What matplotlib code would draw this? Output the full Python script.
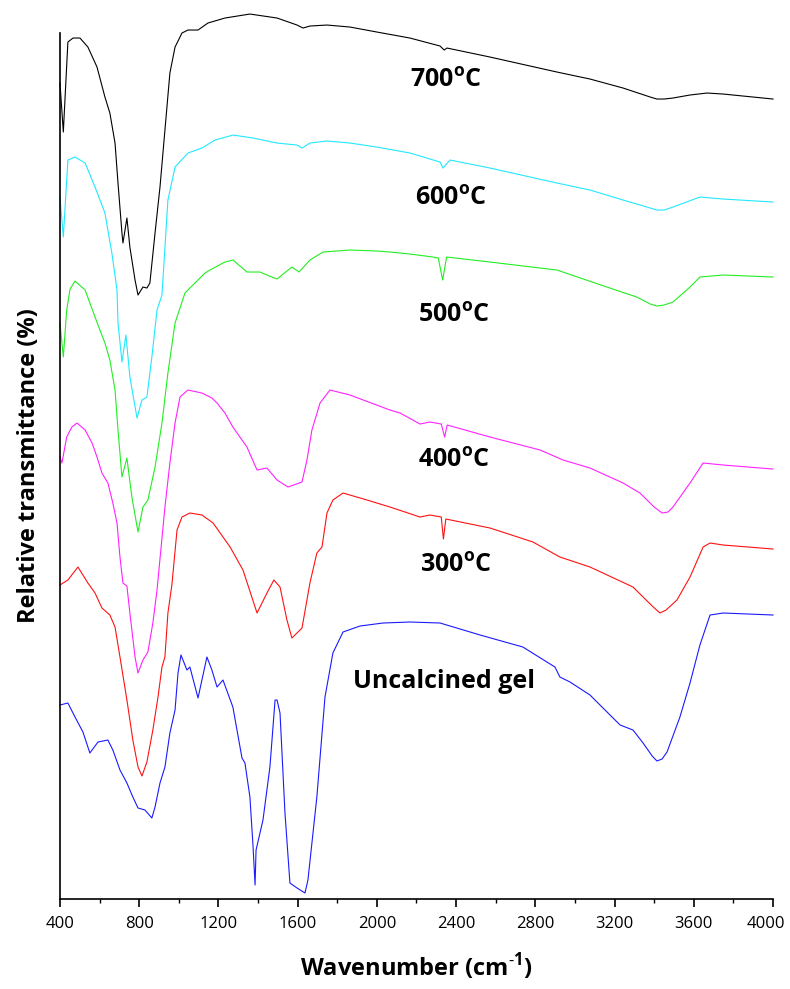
#!python3

import matplotlib
matplotlib.use("Agg")
import matplotlib.pyplot as plt
import matplotlib.transforms as mtransforms
from matplotlib.ticker import MultipleLocator

# wavenumber (cm-1) and relative transmittance (a.u., offset already applied)
wn_700 = [400, 417, 440, 466, 501, 541, 587, 627, 652, 678, 693, 713, 718, 738, 753, 779, 794, 819, 839,
          854, 880, 905, 930, 955, 981, 1016, 1046, 1097, 1147, 1233, 1359, 1496, 1597, 1627, 1662, 1748,
          1864, 2000, 2167, 2319, 2340, 2354, 2571, 2909, 3076, 3243, 3380, 3414, 3450, 3495, 3580, 3667,
          3748, 4000]
t_700 = [816, 767, 857, 861, 861, 852, 832, 802, 786, 756, 716, 666, 656, 681, 652, 619, 604, 612, 611,
         616, 666, 712, 769, 826, 852, 866, 869, 869, 876, 881, 885, 881, 874, 871, 873, 874,
         872, 867, 861, 853, 849, 851, 842, 827, 820, 811, 802, 800, 800, 801, 804, 806,
         805, 800]

wn_600 = [400, 417, 440, 476, 527, 577, 627, 662, 688, 693, 713, 733, 753, 789, 814, 839, 864, 890, 915,
          945, 981, 1046, 1117, 1183, 1274, 1375, 1496, 1597, 1622, 1662, 1748, 1864, 2000, 2167, 2319,
          2334, 2369, 2571, 2909, 3076, 3243, 3380, 3414, 3450, 3495, 3631, 3748, 4000]
t_600 = [702, 662, 739, 742, 736, 712, 686, 646, 609, 576, 537, 564, 522, 481, 499, 502, 542, 589, 604,
         699, 732, 746, 751, 759, 764, 761, 756, 754, 751, 756, 758, 756, 752, 746, 737,
         731, 739, 731, 716, 709, 699, 691, 689, 689, 692, 702, 700, 697]

wn_500 = [400, 417, 434, 451, 476, 527, 577, 627, 652, 678, 693, 713, 738, 763, 794, 819, 844, 880, 915,
          945, 981, 1031, 1046, 1132, 1157, 1233, 1274, 1344, 1410, 1445, 1496, 1571, 1607, 1662, 1728,
          1864, 2000, 2066, 2167, 2283, 2310, 2332, 2352, 2571, 2909, 3161, 3312, 3380, 3414, 3450, 3495,
          3581, 3631, 3748, 4000]
t_500 = [576, 542, 589, 610, 618, 609, 582, 556, 539, 509, 469, 422, 441, 402, 367, 392, 399, 432, 476,
         526, 576, 606, 609, 626, 629, 637, 639, 627, 627, 624, 620, 632, 627, 639, 647,
         649, 648, 647, 645, 642, 641, 619, 642, 637, 629, 612, 602, 595, 593, 594, 597,
         612, 622, 624, 622]

wn_400 = [400, 410, 434, 460, 486, 527, 562, 587, 612, 642, 667, 688, 703, 718, 738, 753, 779, 794, 819,
          844, 869, 890, 930, 955, 981, 1006, 1046, 1117, 1167, 1193, 1233, 1273, 1344, 1395, 1445, 1496,
          1551, 1622, 1647, 1672, 1713, 1763, 1864, 2066, 2117, 2218, 2268, 2325, 2342, 2355, 2571, 2824,
          2940, 3076, 3243, 3328, 3400, 3440, 3470, 3495, 3581, 3647, 3748, 4000]
t_400 = [442, 436, 462, 472, 476, 469, 456, 442, 426, 416, 396, 376, 342, 316, 313, 286, 242, 226, 239,
         247, 276, 309, 392, 436, 476, 502, 509, 506, 501, 496, 486, 472, 452, 429, 431, 419,
         412, 417, 439, 469, 496, 509, 504, 489, 486, 475, 477, 475, 462, 474, 462, 449,
         439, 431, 416, 406, 392, 386, 387, 392, 416, 436, 434, 430]

wn_300 = [400, 440, 491, 541, 577, 612, 652, 678, 703, 738, 768, 794, 814, 839, 869, 895, 915, 930, 945,
          965, 991, 1016, 1056, 1117, 1173, 1259, 1324, 1395, 1445, 1480, 1511, 1546, 1571, 1622, 1662,
          1697, 1723, 1748, 1778, 1829, 1950, 2066, 2218, 2268, 2325, 2336, 2348, 2571, 2788, 2924, 3076,
          3293, 3390, 3429, 3460, 3515, 3581, 3647, 3682, 3748, 4000]
t_300 = [314, 319, 332, 316, 306, 291, 284, 272, 242, 199, 159, 132, 123, 137, 169, 202, 232, 242, 286,
         314, 369, 382, 386, 384, 376, 352, 329, 286, 306, 319, 312, 279, 261, 271, 316,
         346, 352, 386, 399, 406, 399, 392, 382, 384, 382, 360, 380, 371, 357, 342, 332,
         312, 293, 286, 289, 299, 322, 352, 356, 354, 350]

wn_gel = [400, 440, 476, 516, 551, 592, 642, 667, 703, 738, 768, 794, 829, 864, 880, 905, 930, 955, 981,
          996, 1011, 1041, 1056, 1097, 1142, 1167, 1193, 1223, 1273, 1319, 1334, 1359, 1375, 1385, 1390,
          1425, 1460, 1486, 1496, 1511, 1536, 1561, 1597, 1637, 1652, 1697, 1738, 1778, 1829, 1915, 2031,
          2167, 2319, 2521, 2737, 2899, 2924, 2975, 3076, 3162, 3228, 3293, 3344, 3390, 3414, 3440, 3465,
          3530, 3581, 3631, 3682, 3748, 4000]
t_gel = [194, 196, 182, 167, 146, 157, 159, 149, 129, 116, 102, 91, 89, 81, 92, 116, 132, 166, 189,
         226, 244, 229, 232, 201, 242, 229, 212, 219, 192, 141, 136, 102, 52, 14, 49,
         79, 132, 199, 199, 186, 86, 16, 11, 6, 19, 102, 202, 246, 267, 273, 276,
         277, 276, 264, 252, 232, 222, 217, 204, 187, 174, 169, 156, 143, 138, 140, 147,
         182, 216, 254, 284, 286, 284]

series = [
  (wn_700, t_700, "black"),
  (wn_600, t_600, "#22e8ff"),
  (wn_500, t_500, "#22ee22"),
  (wn_400, t_400, "#ff22ff"),
  (wn_300, t_300, "#ff1111"),
  (wn_gel, t_gel, "#1a1aff"),
]

labels = ["700$^{\\mathbf{o}}$C", "600$^{\\mathbf{o}}$C", "500$^{\\mathbf{o}}$C",
          "400$^{\\mathbf{o}}$C", "300$^{\\mathbf{o}}$C", "Uncalcined gel"]
label_pos = [(2167, 812), (2192, 694), (2207, 577), (2207, 432), (2218, 327), (1879, 211)]

xticks = [400, 800, 1200, 1600, 2000, 2400, 2800, 3200, 3600, 4000]


def main():
  plt.rcParams['font.family'] = ['Open Sans', 'DejaVu Sans']
  plt.rcParams['mathtext.fontset'] = 'custom'
  plt.rcParams['mathtext.rm'] = 'Open Sans'
  plt.rcParams['mathtext.bf'] = 'Open Sans:bold'

  fig = plt.figure(figsize=(7.9, 9.89), dpi=100)
  ax = fig.add_axes([0.0759, 0.0910, 0.9026, 0.8756])

  for wn, t, c in series:
    ax.plot(wn, t, '-', color=c, lw=0.8, clip_on=False)

  for txt, (x, y) in zip(labels, label_pos):
    ax.text(x, y, txt, fontsize=18, fontweight='bold', ha='left', va='baseline')

  ax.set_xlim(400, 4000)
  ax.set_ylim(0, 866)
  ax.set_xticks(xticks)
  ax.set_xticklabels([str(v) for v in xticks])
  ax.xaxis.set_minor_locator(MultipleLocator(200))
  ax.tick_params(axis='x', which='major', direction='out', length=6, width=1.2, labelsize=12, pad=6)
  ax.tick_params(axis='x', which='minor', direction='out', length=3, width=1)
  ax.set_yticks([])
  ax.spines['top'].set_visible(False)
  ax.spines['right'].set_visible(False)
  ax.spines['left'].set_linewidth(1.2)
  ax.spines['bottom'].set_linewidth(1.2)

  ax.set_xlabel('Wavenumber (cm$^{\\mathbf{\\text{-}1}}$)', fontsize=17, fontweight='bold', labelpad=14)
  ax.set_ylabel('Relative transmittance (%)', fontsize=17, fontweight='bold', labelpad=14)

  # keep the last tick label inside the figure
  last = ax.xaxis.get_major_ticks()[-1].label1
  shift = mtransforms.ScaledTranslation(-7 / 100, 0, fig.dpi_scale_trans)
  last.set_transform(last.get_transform() + shift)

  fig.savefig('out.png', dpi=100)


if __name__ == "__main__":
  main()
